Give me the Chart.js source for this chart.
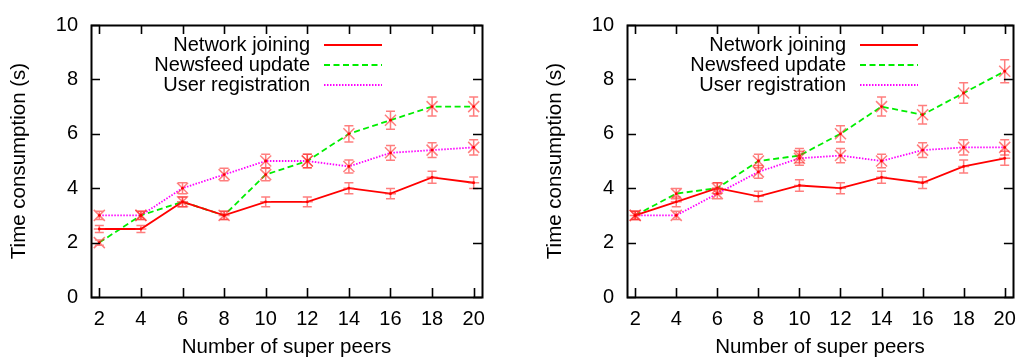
<!DOCTYPE html>
<html><head><meta charset="utf-8">
<script src="https://cdn.jsdelivr.net/npm/chart.js@4"></script>
<style>
html,body{margin:0;padding:0;background:#fff;}
body{width:1026px;height:361px;position:relative;overflow:hidden;}
.box{position:absolute;top:0;height:361px;}
#b1{left:0;width:500px;}
#b2{left:536px;width:490px;}
</style></head><body>
<div class="box" id="b1"><canvas id="c1"></canvas></div>
<div class="box" id="b2"><canvas id="c2"></canvas></div>
<script>
// ---- data ----
const superPeers = [2, 4, 6, 8, 10, 12, 14, 16, 18, 20];
const seriesNames = ['Network joining', 'Newsfeed update', 'User registration'];
const xTickValues = [2, 4, 6, 8, 10, 12, 14, 16, 18, 20];
const yTickValues = [0, 2, 4, 6, 8, 10];
const xTitle = 'Number of super peers';
const yTitle = 'Time consumption (s)';

// left chart
const leftJoining      = [2.5, 2.5, 3.5, 3.0, 3.5, 3.5, 4.0, 3.8, 4.4, 4.2];
const leftJoiningErr   = [0.13, 0.13, 0.18, 0.15, 0.18, 0.18, 0.2, 0.19, 0.22, 0.21];
const leftNewsfeed     = [2.0, 3.0, 3.5, 3.0, 4.5, 5.0, 6.0, 6.5, 7.0, 7.0];
const leftNewsfeedErr  = [0.1, 0.15, 0.18, 0.15, 0.23, 0.25, 0.3, 0.33, 0.35, 0.35];
const leftRegister     = [3.0, 3.0, 4.0, 4.5, 5.0, 5.0, 4.8, 5.3, 5.4, 5.5];
const leftRegisterErr  = [0.15, 0.15, 0.2, 0.23, 0.25, 0.25, 0.24, 0.27, 0.27, 0.28];

// right chart
const rightJoining     = [3.0, 3.5, 4.0, 3.7, 4.1, 4.0, 4.4, 4.2, 4.8, 5.1];
const rightJoiningErr  = [0.15, 0.18, 0.2, 0.19, 0.21, 0.2, 0.22, 0.21, 0.24, 0.26];
const rightNewsfeed    = [3.0, 3.8, 4.0, 5.0, 5.2, 6.0, 7.0, 6.7, 7.5, 8.3];
const rightNewsfeedErr = [0.15, 0.19, 0.2, 0.25, 0.26, 0.3, 0.35, 0.34, 0.38, 0.42];
const rightRegister    = [3.0, 3.0, 3.8, 4.6, 5.1, 5.2, 5.0, 5.4, 5.5, 5.5];
const rightRegisterErr = [0.15, 0.15, 0.19, 0.23, 0.26, 0.26, 0.25, 0.27, 0.28, 0.28];

// ---- styling ----
const FONT = '"Liberation Sans", Arial, Helvetica, sans-serif';
const seriesStyles = [
  {color: '#ff0000', dash: [], marker: 'plus'},
  {color: '#00ee00', dash: [6, 3.5], marker: 'x'},
  {color: '#ff00ff', dash: [1.5, 1.5], marker: 'x'}
];
const ERR_COLOR = 'rgba(255,40,40,0.6)';

function makeDatasets(vals, errs) {
  return vals.map((v, k) => ({
    label: seriesNames[k],
    data: superPeers.map((x, i) => ({x: x, y: v[i]})),
    errors: errs[k],
    marker: seriesStyles[k].marker,
    borderColor: seriesStyles[k].color,
    backgroundColor: seriesStyles[k].color,
    borderDash: seriesStyles[k].dash,
    borderWidth: 1.8,
    pointRadius: 0,
    tension: 0,
    fill: false
  }));
}

const framePlugin = {
  id: 'frame',
  afterDraw(chart) {
    const {ctx, chartArea: a, scales} = chart;
    const tl = 9;
    ctx.save();
    ctx.strokeStyle = '#000';
    ctx.lineWidth = 1.6;
    ctx.beginPath();
    scales.x.ticks.forEach(t => {
      const px = Math.round(scales.x.getPixelForValue(t.value)) + 0.5;
      ctx.moveTo(px, a.bottom); ctx.lineTo(px, a.bottom - tl);
      ctx.moveTo(px, a.top); ctx.lineTo(px, a.top + tl);
    });
    scales.y.ticks.forEach(t => {
      const py = Math.round(scales.y.getPixelForValue(t.value)) + 0.5;
      ctx.moveTo(a.left, py); ctx.lineTo(a.left + tl, py);
      ctx.moveTo(a.right, py); ctx.lineTo(a.right - tl, py);
    });
    ctx.stroke();
    ctx.lineWidth = 2;
    ctx.strokeRect(Math.round(a.left) + 0.5, Math.round(a.top) + 0.5,
                   Math.round(a.right - a.left), Math.round(a.bottom - a.top));
    ctx.restore();
  }
};

const errorPlugin = {
  id: 'errbars',
  afterDatasetsDraw(chart) {
    const {ctx, scales} = chart;
    ctx.save();
    chart.data.datasets.forEach((ds, k) => {
      const meta = chart.getDatasetMeta(k);
      meta.data.forEach((pt, i) => {
        const x = pt.x, y = pt.y;
        const v = ds.data[i].y, e = ds.errors[i];
        const yTop = scales.y.getPixelForValue(v + e);
        const yBot = scales.y.getPixelForValue(v - e);
        ctx.strokeStyle = ERR_COLOR;
        ctx.lineWidth = 1.5;
        ctx.beginPath();
        ctx.moveTo(x, yTop); ctx.lineTo(x, yBot);
        ctx.moveTo(x - 4.5, yTop); ctx.lineTo(x + 4.5, yTop);
        ctx.moveTo(x - 4.5, yBot); ctx.lineTo(x + 4.5, yBot);
        const m = 5.5;
        if (ds.marker === 'x') {
          ctx.moveTo(x - m, y - m); ctx.lineTo(x + m, y + m);
          ctx.moveTo(x - m, y + m); ctx.lineTo(x + m, y - m);
        } else {
          ctx.moveTo(x - m, y); ctx.lineTo(x + m, y);
        }
        ctx.stroke();
        ctx.fillStyle = '#ff0000';
        ctx.beginPath();
        ctx.arc(x, y, 1.4, 0, Math.PI * 2);
        ctx.fill();
      });
    });
    ctx.restore();
  }
};

const legendPlugin = {
  id: 'keybox',
  afterDraw(chart) {
    const {ctx, chartArea: a} = chart;
    ctx.save();
    ctx.font = '20px ' + FONT;
    ctx.textAlign = 'right';
    ctx.textBaseline = 'alphabetic';
    chart.data.datasets.forEach((ds, k) => {
      const ly = a.top + 20 + k * 20;
      ctx.fillStyle = '#000';
      ctx.fillText(ds.label, a.left + 219, ly + 6);
      ctx.strokeStyle = ds.borderColor;
      ctx.lineWidth = 1.8;
      ctx.setLineDash(ds.borderDash);
      ctx.beginPath();
      ctx.moveTo(a.left + 233, ly); ctx.lineTo(a.left + 291, ly);
      ctx.stroke();
      ctx.setLineDash([]);
    });
    ctx.restore();
  }
};

function makeChart(id, boxWidth, vals, errs) {
  return new Chart(document.getElementById(id), {
    type: 'line',
    data: {datasets: makeDatasets(vals, errs)},
    plugins: [errorPlugin, framePlugin, legendPlugin],
    options: {
      responsive: true,
      maintainAspectRatio: false,
      animation: false,
      devicePixelRatio: 1,
      layout: {padding: {top: 19, right: boxWidth - 482, bottom: 0, left: 0}},
      plugins: {legend: {display: false}, tooltip: {enabled: false}},
      scales: {
        x: {
          type: 'linear', min: 1.6, max: 20.4,
          afterBuildTicks: s => { s.ticks = xTickValues.map(v => ({value: v})); },
          grid: {display: false, drawTicks: false},
          border: {display: false},
          ticks: {color: '#000', padding: 10, maxRotation: 0, autoSkip: false,
                  font: {family: FONT, size: 20}},
          title: {display: true, text: xTitle, color: '#000',
                  font: {family: FONT, size: 20.5}, padding: {top: 0, bottom: 1}},
          afterFit: s => { s.height = 64; }
        },
        y: {
          type: 'linear', min: 0, max: 10,
          afterBuildTicks: s => { s.ticks = yTickValues.map(v => ({value: v})); },
          grid: {display: false, drawTicks: false},
          border: {display: false},
          ticks: {color: '#000', padding: 13, font: {family: FONT, size: 20}},
          title: {display: true, text: yTitle, color: '#000',
                  font: {family: FONT, size: 20.5}, padding: {top: 7, bottom: 0}},
          afterFit: s => { s.width = 91; }
        }
      }
    }
  });
}

makeChart('c1', 500,
  [leftJoining, leftNewsfeed, leftRegister],
  [leftJoiningErr, leftNewsfeedErr, leftRegisterErr]);
makeChart('c2', 490,
  [rightJoining, rightNewsfeed, rightRegister],
  [rightJoiningErr, rightNewsfeedErr, rightRegisterErr]);
</script>
</body></html>
